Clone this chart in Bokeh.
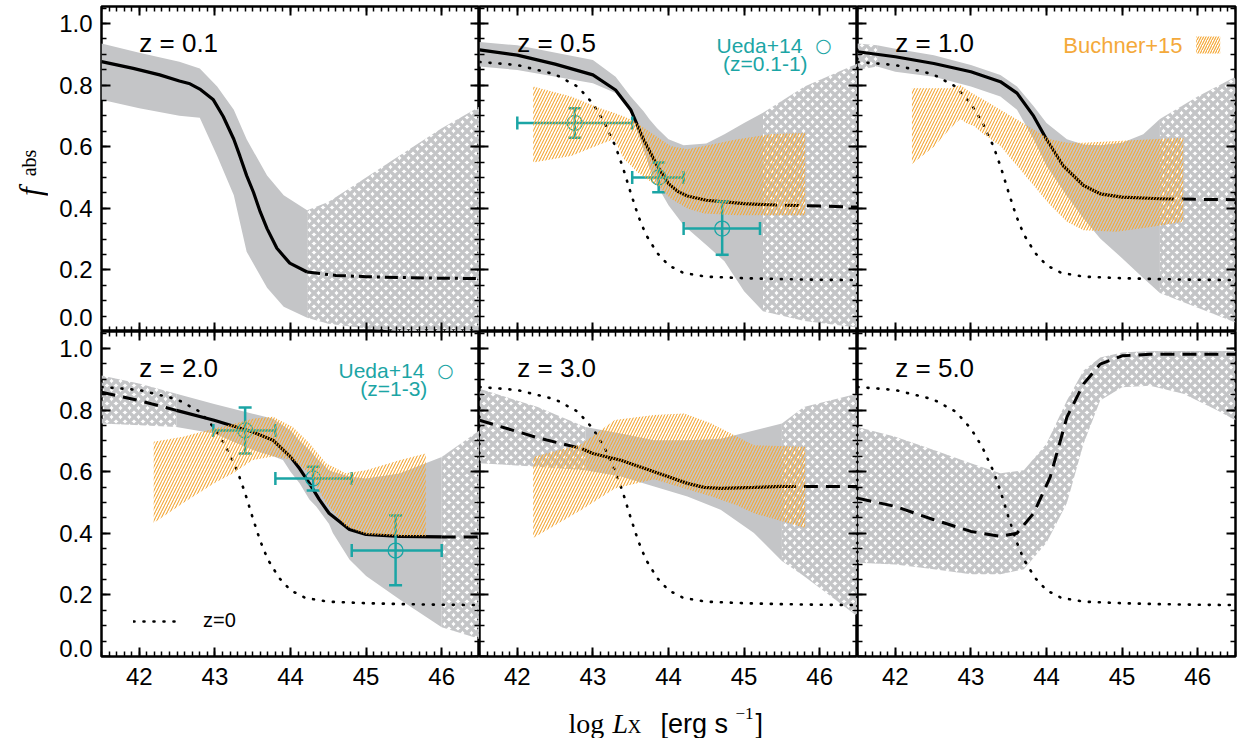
import numpy as np
from bokeh.plotting import figure
from bokeh.models import LinearAxis, FixedTicker, Range1d, Label, Legend, LegendItem, Spacer
from bokeh.layouts import row, column
from bokeh.embed import file_html
from bokeh.resources import INLINE

# ---------------- data ----------------
x_ticks = [42, 43, 44, 45, 46]
x_tick_labels = ["42", "43", "44", "45", "46"]
y_ticks = [0.0, 0.2, 0.4, 0.6, 0.8, 1.0]
y_tick_labels = ["0.0", "0.2", "0.4", "0.6", "0.8", "1.0"]
panel_titles = ["z = 0.1", "z = 0.5", "z = 1.0", "z = 2.0", "z = 3.0", "z = 5.0"]

# z = 0 reference relation (dotted)
z0_x = [41.5, 42.0, 42.5, 42.8, 43.0, 43.15, 43.3, 43.4, 43.5, 43.6, 43.7, 43.85, 44.0, 44.2, 44.5, 45.0, 45.5, 46.0, 46.5]
z0_y = [0.875, 0.865, 0.835, 0.795, 0.74, 0.68, 0.60, 0.53, 0.45, 0.375, 0.315, 0.255, 0.215, 0.19, 0.178, 0.173, 0.17, 0.168, 0.167]

# z = 0.1
band1_x = [41.5, 42.0, 42.53, 42.8, 43.03, 43.25, 43.42, 43.69, 43.91, 44.22, 44.5, 45.0, 45.5, 46.0, 46.5]
band1_hi = [0.935, 0.905, 0.876, 0.854, 0.795, 0.72, 0.624, 0.506, 0.442, 0.394, 0.42, 0.50, 0.58, 0.66, 0.73]
band1_lo = [0.752, 0.725, 0.70, 0.694, 0.57, 0.442, 0.259, 0.142, 0.08, 0.045, 0.025, 0.01, 0.0, 0.0, 0.0]
band1_fit = [41.5, 44.22]
curve1_x = [41.5, 41.92, 42.27, 42.53, 42.67, 42.8, 42.98, 43.11, 43.25, 43.33, 43.42, 43.51, 43.6, 43.69, 43.82,
            43.99, 44.22, 44.6, 45.0, 45.5, 46.0, 46.5]
curve1_y = [0.876, 0.854, 0.833, 0.813, 0.804, 0.787, 0.752, 0.698, 0.624, 0.57, 0.506, 0.452, 0.388, 0.334, 0.27,
            0.222, 0.193, 0.182, 0.178, 0.175, 0.173, 0.172]
curve1_fit = [41.5, 44.22]

# z = 0.5
band2_x = [41.5, 42.0, 43.0, 43.3, 43.5, 43.67, 43.75, 43.85, 44.0, 44.2, 44.5, 44.74, 45.0, 45.25, 45.8, 46.5]
band2_hi = [0.94, 0.929, 0.881, 0.827, 0.763, 0.715, 0.688, 0.66, 0.624, 0.605, 0.61, 0.64, 0.677, 0.71, 0.795, 0.87]
band2_lo = [0.86, 0.849, 0.806, 0.774, 0.71, 0.592, 0.53, 0.474, 0.41, 0.345, 0.281, 0.228, 0.131, 0.066, 0.034, 0.013]
band2_fit = [41.5, 45.25]
curve2_x = [41.5, 42.0, 42.5, 43.0, 43.3, 43.5, 43.67, 43.85, 44.0, 44.12, 44.25, 44.5, 45.0, 45.25, 45.5, 46.0, 46.5]
curve2_y = [0.914, 0.897, 0.868, 0.833, 0.784, 0.72, 0.623, 0.538, 0.48, 0.455, 0.44, 0.426, 0.415, 0.412, 0.41, 0.407, 0.404]
curve2_fit = [41.5, 45.25]
buchner2_x = [42.21, 42.71, 43.15, 43.28, 43.41, 43.5, 43.59, 43.77, 43.86, 44.03, 44.25, 44.47, 44.91, 45.35, 45.81]
buchner2_hi = [0.795, 0.763, 0.72, 0.71, 0.698, 0.688, 0.675, 0.645, 0.63, 0.602, 0.592, 0.602, 0.624, 0.64, 0.645]
buchner2_lo = [0.549, 0.57, 0.613, 0.624, 0.56, 0.54, 0.517, 0.485, 0.474, 0.431, 0.399, 0.383, 0.377, 0.377, 0.377]
ueda2_x = [42.76, 43.87, 44.71]
ueda2_xlo = [42.0, 43.52, 44.2]
ueda2_xhi = [43.52, 44.2, 45.21]
ueda2_y = [0.677, 0.50, 0.334]
ueda2_ylo = [0.629, 0.452, 0.249]
ueda2_yhi = [0.725, 0.549, 0.422]

# z = 1.0
band3_x = [41.5, 41.76, 42.0, 42.51, 43.0, 43.39, 43.61, 43.83, 44.0, 44.27, 44.49, 44.71, 45.0, 45.28, 45.5, 46.0, 46.5]
band3_hi = [0.935, 0.929, 0.918, 0.897, 0.865, 0.833, 0.795, 0.731, 0.677, 0.624, 0.607, 0.605, 0.613, 0.64, 0.69, 0.763, 0.827]
band3_lo = [0.849, 0.86, 0.843, 0.827, 0.795, 0.763, 0.72, 0.624, 0.538, 0.44, 0.367, 0.302, 0.238, 0.174, 0.125, 0.077, 0.029]
band3_fit = [41.76, 45.5]
curve3_x = [41.5, 42.0, 42.51, 43.0, 43.39, 43.61, 43.83, 44.0, 44.22, 44.49, 44.71, 45.0, 45.5, 46.0, 46.5]
curve3_y = [0.908, 0.892, 0.87, 0.843, 0.811, 0.774, 0.699, 0.624, 0.538, 0.474, 0.447, 0.436, 0.431, 0.429, 0.428]
curve3_fit = [41.5, 45.5]
buchner3_x = [42.22, 42.51, 42.73, 42.86, 42.95, 43.04, 43.17, 43.39, 43.61, 43.83, 44.05, 44.27, 44.49, 44.93, 45.4, 45.81]
buchner3_hi = [0.79, 0.79, 0.79, 0.80, 0.784, 0.77, 0.752, 0.72, 0.688, 0.656, 0.624, 0.613, 0.613, 0.618, 0.624, 0.629]
buchner3_lo = [0.544, 0.60, 0.66, 0.69, 0.675, 0.667, 0.64, 0.602, 0.538, 0.474, 0.41, 0.356, 0.329, 0.324, 0.34, 0.356]

# z = 2.0
band4_x = [41.5, 42.01, 42.49, 42.99, 43.5, 43.77, 43.9, 44.0, 44.12, 44.25, 44.34, 44.51, 44.56, 44.78, 45.0, 45.44, 46.0, 46.5]
band4_hi = [0.912, 0.885, 0.853, 0.82, 0.788, 0.772, 0.75, 0.734, 0.70, 0.67, 0.645, 0.605, 0.60, 0.584, 0.578, 0.594, 0.648, 0.734]
band4_lo = [0.756, 0.751, 0.745, 0.724, 0.67, 0.65, 0.638, 0.60, 0.562, 0.51, 0.487, 0.43, 0.401, 0.315, 0.261, 0.186, 0.095, 0.057]
band4_fit = [42.49, 46.0]
curve4_x = [41.5, 42.01, 42.49, 42.99, 43.5, 43.77, 44.0, 44.12, 44.25, 44.38, 44.51, 44.78, 45.0, 45.44, 46.0, 46.5]
curve4_y = [0.858, 0.83, 0.799, 0.767, 0.729, 0.702, 0.648, 0.61, 0.562, 0.51, 0.465, 0.412, 0.396, 0.39, 0.388, 0.388]
curve4_fit = [42.49, 46.0]
buchner4_x = [42.19, 42.58, 42.99, 43.24, 43.5, 43.77, 44.03, 44.25, 44.47, 44.73, 45.0, 45.44, 45.79]
buchner4_hi = [0.697, 0.713, 0.74, 0.755, 0.772, 0.778, 0.745, 0.692, 0.627, 0.595, 0.605, 0.637, 0.659]
buchner4_lo = [0.433, 0.498, 0.562, 0.595, 0.638, 0.649, 0.638, 0.595, 0.498, 0.423, 0.396, 0.39, 0.39]
ueda4_x = [43.40, 44.30, 45.39]
ueda4_xlo = [42.98, 43.80, 44.81]
ueda4_xhi = [43.80, 44.81, 46.0]
ueda4_y = [0.734, 0.578, 0.344]
ueda4_ylo = [0.659, 0.539, 0.231]
ueda4_yhi = [0.808, 0.616, 0.458]

# z = 3.0
band5_x = [41.5, 42.27, 42.9, 43.37, 43.81, 44.25, 44.69, 45.13, 45.5, 45.79, 46.5]
band5_hi = [0.869, 0.81, 0.745, 0.724, 0.702, 0.702, 0.707, 0.734, 0.756, 0.81, 0.853]
band5_lo = [0.627, 0.616, 0.605, 0.584, 0.552, 0.519, 0.476, 0.401, 0.31, 0.261, 0.13]
band5_fit = [42.9, 45.5]
curve5_x = [41.5, 42.27, 42.85, 43.0, 43.37, 43.81, 44.25, 44.47, 44.69, 45.13, 45.5, 46.0, 46.5]
curve5_y = [0.767, 0.71, 0.675, 0.659, 0.637, 0.60, 0.562, 0.549, 0.546, 0.549, 0.552, 0.552, 0.552]
curve5_fit = [42.85, 45.5]
buchner5_x = [42.21, 42.85, 43.29, 43.81, 44.21, 44.56, 44.91, 45.13, 45.81]
buchner5_hi = [0.648, 0.69, 0.768, 0.784, 0.789, 0.757, 0.713, 0.686, 0.681]
buchner5_lo = [0.385, 0.476, 0.545, 0.575, 0.545, 0.52, 0.49, 0.465, 0.417]

# z = 5.0 (no constrained range: all extrapolated)
band6_x = [41.5, 42.0, 42.51, 43.0, 43.39, 43.7, 44.0, 44.27, 44.49, 44.71, 45.0, 45.37, 45.81, 46.25, 46.5]
band6_hi = [0.745, 0.713, 0.67, 0.627, 0.595, 0.605, 0.691, 0.831, 0.928, 0.971, 0.987, 0.992, 0.992, 0.992, 0.992]
band6_lo = [0.304, 0.299, 0.283, 0.267, 0.267, 0.283, 0.369, 0.498, 0.691, 0.831, 0.874, 0.879, 0.853, 0.80, 0.767]
band6_fit = None
curve6_x = [41.5, 42.0, 42.51, 43.0, 43.39, 43.61, 43.83, 44.05, 44.27, 44.49, 44.71, 45.0, 45.37, 46.5]
curve6_y = [0.514, 0.487, 0.444, 0.406, 0.39, 0.40, 0.465, 0.583, 0.777, 0.885, 0.949, 0.976, 0.981, 0.981]
curve6_fit = None

# ---------------- styling ----------------
GRAY = "#c4c5c7"
TEAL = "#1ba5a5"
ORANGE = "#f4a93a"
SANS = "Liberation Sans"
SERIF = "Liberation Serif"

X_RANGE = (41.5, 46.5)
Y_RANGE = (0.0, 1.055)
W_YT = 48          # width of the y-title strip
LEFT = 53          # left border of first column (tick labels)
RIGHT, TOP, BOTTOM = 2, 6, 40
PANEL_W, PANEL_H = 378, 325
XT_H = 42          # height of the x-title strip
TOTAL_W = W_YT + LEFT + 3 * PANEL_W + RIGHT
# like the original, the "0.0" label sits a little above the frame corner
ZERO_LABEL_LIFT = {0: 14, 1: 8}   # pixels, per row

panels = [
    dict(band=(band1_x, band1_lo, band1_hi), band_fit=band1_fit, curve=(curve1_x, curve1_y), curve_fit=curve1_fit,
         dash="13 5 3 5", z0=False, buchner=None, ueda=None),
    dict(band=(band2_x, band2_lo, band2_hi), band_fit=band2_fit, curve=(curve2_x, curve2_y), curve_fit=curve2_fit,
         dash="14 8", z0=True, buchner=(buchner2_x, buchner2_lo, buchner2_hi),
         ueda=(ueda2_x, ueda2_xlo, ueda2_xhi, ueda2_y, ueda2_ylo, ueda2_yhi)),
    dict(band=(band3_x, band3_lo, band3_hi), band_fit=band3_fit, curve=(curve3_x, curve3_y), curve_fit=curve3_fit,
         dash="14 8", z0=True, buchner=(buchner3_x, buchner3_lo, buchner3_hi), ueda=None),
    dict(band=(band4_x, band4_lo, band4_hi), band_fit=band4_fit, curve=(curve4_x, curve4_y), curve_fit=curve4_fit,
         dash="14 8", z0=True, buchner=(buchner4_x, buchner4_lo, buchner4_hi),
         ueda=(ueda4_x, ueda4_xlo, ueda4_xhi, ueda4_y, ueda4_ylo, ueda4_yhi)),
    dict(band=(band5_x, band5_lo, band5_hi), band_fit=band5_fit, curve=(curve5_x, curve5_y), curve_fit=curve5_fit,
         dash="14 8", z0=True, buchner=(buchner5_x, buchner5_lo, buchner5_hi), ueda=None),
    dict(band=(band6_x, band6_lo, band6_hi), band_fit=band6_fit, curve=(curve6_x, curve6_y), curve_fit=curve6_fit,
         dash="14 8", z0=True, buchner=None, ueda=None),
]


def split_masks(x, fit):
    x = np.asarray(x, dtype=float)
    eps = 1e-9
    if fit is None:
        return None, [np.ones(len(x), dtype=bool)]
    lo, hi = fit
    inside = (x >= lo - eps) & (x <= hi + eps)
    outs = [x <= lo + eps, x >= hi - eps]
    outs = [m for m in outs if m.sum() >= 2]
    return (inside if inside.sum() >= 2 else None), outs


def style_axis(ax, standoff, ticks=True):
    ax.axis_line_color = None
    ax.major_tick_in = 9 if ticks else 0
    ax.major_tick_out = 0
    ax.minor_tick_in = 5 if ticks else 0
    ax.minor_tick_out = 0
    ax.major_tick_line_color = "black" if ticks else None
    ax.major_tick_line_width = 2
    ax.minor_tick_line_color = "black" if ticks else None
    ax.minor_tick_line_width = 1.5
    ax.major_label_text_font = SANS
    ax.major_label_text_font_size = "24px"
    ax.major_label_text_color = "black"
    ax.major_label_standoff = standoff


def add_axes(p, xlab, ylab, rw):
    x_minor = [round(float(v), 2) for v in np.arange(41.5, 46.501, 0.1)]
    y_minor = [round(float(v), 3) for v in np.arange(0.0, 1.0551, 0.05)]
    # x axes
    for side, loc in (("below", Y_RANGE[0]), ("above", Y_RANGE[1])):
        on = xlab and side == "below"
        ax = LinearAxis(ticker=FixedTicker(ticks=x_ticks, minor_ticks=x_minor))
        if not on:
            ax.fixed_location = loc
        style_axis(ax, 11)
        ax.major_label_overrides = {t: (lab if on else "") for t, lab in zip(x_ticks, x_tick_labels)}
        p.add_layout(ax, side)
    # y axes: tick marks (frame-attached, unlabelled) on both sides
    for side, loc in (("left", X_RANGE[0]), ("right", X_RANGE[1])):
        ax = LinearAxis(ticker=FixedTicker(ticks=y_ticks, minor_ticks=y_minor), fixed_location=loc)
        style_axis(ax, 8)
        ax.major_label_overrides = {t: "" for t in y_ticks}
        p.add_layout(ax, side)
    # y tick labels (outside the frame) for the first column
    if ylab:
        per_px = (Y_RANGE[1] - Y_RANGE[0]) / PANEL_H
        pos = [t if t > 0 else round(t + ZERO_LABEL_LIFT[rw] * per_px, 4) for t in y_ticks]
        ax = LinearAxis(ticker=FixedTicker(ticks=pos, minor_ticks=[]))
        style_axis(ax, 9, ticks=False)
        ax.major_label_overrides = {q: lab for q, lab in zip(pos, y_tick_labels)}
        p.add_layout(ax, "left")


figs = []
for i, pd in enumerate(panels):
    col, rw = i % 3, i // 3
    left = LEFT if col == 0 else 0
    right = RIGHT if col == 2 else 0
    top = TOP if rw == 0 else 0
    bottom = BOTTOM if rw == 1 else 0
    p = figure(width=PANEL_W + left + right, height=PANEL_H + top + bottom,
               x_range=Range1d(*X_RANGE), y_range=Range1d(*Y_RANGE),
               output_backend="svg", toolbar_location=None, title=None,
               x_axis_location=None, y_axis_location=None,
               min_border_left=left, min_border_right=right,
               min_border_top=top, min_border_bottom=bottom)
    p.xgrid.visible = False
    p.ygrid.visible = False
    p.outline_line_color = "black"
    p.outline_line_width = 2.5
    p.background_fill_color = "white"
    p.border_fill_color = "white"

    # model band: constrained (solid) and extrapolated (cross-hatched)
    bx, blo, bhi = (np.asarray(a, dtype=float) for a in pd["band"])
    inside, outs = split_masks(bx, pd["band_fit"])
    if inside is not None:
        p.varea(x=bx[inside], y1=blo[inside], y2=bhi[inside], fill_color=GRAY, fill_alpha=1.0)
    for m in outs:
        p.varea(x=bx[m], y1=blo[m], y2=bhi[m], fill_alpha=0.0, hatch_pattern="x",
                hatch_color=GRAY, hatch_scale=9, hatch_weight=3.4)

    # z = 0 reference
    z0r = None
    if pd["z0"]:
        z0r = p.line(z0_x, z0_y, line_color="black", line_width=2.6, line_dash="1 9", line_cap="round")

    # model curve
    cx, cy = (np.asarray(a, dtype=float) for a in pd["curve"])
    inside, outs = split_masks(cx, pd["curve_fit"])
    if inside is not None:
        p.line(cx[inside], cy[inside], line_color="black", line_width=3.2)
    for m in outs:
        p.line(cx[m], cy[m], line_color="black", line_width=3.0, line_dash=pd["dash"])

    # Ueda+14 points
    if pd["ueda"] is not None:
        ux, uxlo, uxhi, uy, uylo, uyhi = pd["ueda"]
        p.segment(x0=uxlo, x1=uxhi, y0=uy, y1=uy, line_color=TEAL, line_width=2.5)
        p.segment(x0=ux, x1=ux, y0=uylo, y1=uyhi, line_color=TEAL, line_width=2.5)
        p.scatter(x=list(uxlo) + list(uxhi), y=list(uy) + list(uy), marker="dash", angle=np.pi / 2,
                  size=13, line_color=TEAL, line_width=2.5)
        p.scatter(x=list(ux) + list(ux), y=list(uylo) + list(uyhi), marker="dash",
                  size=13, line_color=TEAL, line_width=2.5)
        p.scatter(x=ux, y=uy, marker="circle", size=15, fill_color=None, line_color=TEAL, line_width=1.3)

    # Buchner+15 band
    if pd["buchner"] is not None:
        ox, olo, ohi = pd["buchner"]
        p.varea(x=ox, y1=olo, y2=ohi, fill_alpha=0.0, hatch_pattern="/", hatch_color=ORANGE,
                hatch_scale=6, hatch_weight=1.1)

    # panel title
    p.add_layout(Label(x=42.0, y=0.935, text=panel_titles[i], text_align="left", text_baseline="middle",
                       text_font=SANS, text_font_size="26px", text_color="black"))

    add_axes(p, xlab=(rw == 1), ylab=(col == 0), rw=rw)

    if z0r is not None and i == 3:
        leg = Legend(items=[LegendItem(label="z=0", renderers=[z0r])], location=(32, 24),
                     glyph_width=50, glyph_height=20, label_standoff=20, padding=0, margin=0,
                     border_line_color=None, background_fill_alpha=0.0,
                     label_text_font=SANS, label_text_font_size="20px", label_text_color="black")
        p.add_layout(leg)
    figs.append(p)

# Ueda+14 legends
ueda_ranges = {1: "(z=0.1-1)", 3: "(z=1-3)"}
for i, sub in ueda_ranges.items():
    p = figs[i]
    p.add_layout(Label(x=45.77, y=0.93, text="Ueda+14", text_align="right", text_baseline="middle",
                       text_font=SANS, text_font_size="21px", text_color=TEAL))
    p.add_layout(Label(x=46.05, y=0.93, text="\u25cb", text_align="center", text_baseline="middle",
                       text_font="DejaVu Sans", text_font_size="19px", text_color=TEAL))
    p.add_layout(Label(x=45.84 if i == 1 else 45.81, y=0.87, text=sub, text_align="right",
                       text_baseline="middle", text_font=SANS, text_font_size="21px", text_color=TEAL))

# Buchner+15 legend
p3 = figs[2]
p3.add_layout(Label(x=45.8, y=0.93, text="Buchner+15", text_align="right", text_baseline="middle",
                    text_font=SANS, text_font_size="22px", text_color=ORANGE))
try:
    sw = Label(x=45.98, y=0.93, text="\u2003\u2002", text_align="left", text_baseline="middle",
               text_font=SANS, text_font_size="16px", text_color=ORANGE,
               background_fill_alpha=0.0, background_hatch_pattern="/",
               background_hatch_color=ORANGE, background_hatch_scale=5, background_hatch_weight=1.2)
    p3.add_layout(sw)
except Exception:
    pass


def strip(width, height):
    s = figure(width=width, height=height, x_range=Range1d(0, width), y_range=Range1d(0, height),
               output_backend="svg", toolbar_location=None, title=None,
               x_axis_location=None, y_axis_location=None,
               min_border_left=0, min_border_right=0, min_border_top=0, min_border_bottom=0)
    s.xgrid.visible = False
    s.ygrid.visible = False
    s.outline_line_color = None
    return s


# y-axis title  f_abs  (strip left of the top row)
top_h = PANEL_H + TOP
yt = strip(W_YT, top_h)
yt.add_layout(Label(x=30, y=138, text="f", angle=np.pi / 2, text_align="left", text_baseline="alphabetic",
                    text_font=SERIF, text_font_style="italic", text_font_size="31px", text_color="black"))
yt.add_layout(Label(x=28, y=158, text="abs", angle=np.pi / 2, text_align="left", text_baseline="alphabetic",
                    text_font=SERIF, text_font_size="20px", text_color="black"))

# x-axis title  log L_X [erg s^-1]  (strip below the bottom row)
xt = strip(TOTAL_W, XT_H)
xc = W_YT + LEFT + PANEL_W + PANEL_W / 2.0    # centre of the middle column
xt_parts = [
    (-100, 15, "log", SERIF, "normal", "28px"),
    (-56, 15, "L", SERIF, "italic", "28px"),
    (-41, 12, "X", SERIF, "normal", "19px"),
    (-8, 15, "[erg s", SANS, "normal", "27px"),
    (67, 25, "\u22121", SERIF, "normal", "17px"),
    (87, 15, "]", SANS, "normal", "27px"),
]
for dx, yy, txt, fnt, sty, size in xt_parts:
    xt.add_layout(Label(x=xc + dx, y=yy, text=txt, text_align="left", text_baseline="alphabetic",
                        text_font=fnt, text_font_style=sty, text_font_size=size, text_color="black"))

layout = column(
    row(yt, *figs[:3]),
    row(Spacer(width=W_YT, height=PANEL_H + BOTTOM), *figs[3:]),
    xt,
)
open("out.html", "w").write(file_html(layout, INLINE))
